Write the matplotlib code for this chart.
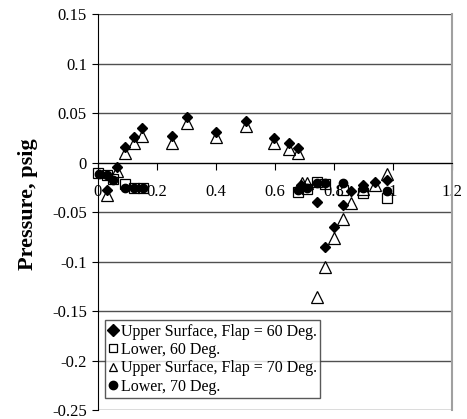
import numpy as np
import matplotlib.pyplot as plt

plt.rcParams['font.family'] = ['Liberation Serif', 'DejaVu Serif']

# Upper surface, flap = 60 deg
x_up60 = [0.031, 0.063, 0.091, 0.122, 0.150, 0.251, 0.302, 0.401, 0.501, 0.598,
          0.649, 0.679, 0.688, 0.741, 0.771, 0.800, 0.829, 0.859, 0.899, 0.938, 0.980]
p_up60 = [-0.028, -0.004, 0.016, 0.026, 0.035, 0.027, 0.046, 0.0315, 0.042, 0.0255,
          0.0197, 0.0154, -0.022, -0.040, -0.085, -0.065, -0.043, -0.029, -0.022, -0.019, -0.0175]

# Lower surface, 60 deg
x_lo60 = [0.001, 0.031, 0.050, 0.090, 0.122, 0.152, 0.679, 0.710, 0.741, 0.771, 0.829, 0.899, 0.980]
p_lo60 = [-0.010, -0.012, -0.0165, -0.0215, -0.0255, -0.025, -0.030, -0.0265, -0.019, -0.021,
          -0.027, -0.031, -0.036]

# Upper surface, flap = 70 deg
x_up70 = [0.031, 0.063, 0.091, 0.122, 0.150, 0.251, 0.302, 0.401, 0.501, 0.598,
          0.649, 0.679, 0.690, 0.710, 0.741, 0.771, 0.800, 0.831, 0.859, 0.899, 0.938, 0.980]
p_up70 = [-0.033, -0.008, 0.010, 0.020, 0.027, 0.020, 0.040, 0.0265, 0.037, 0.020,
          0.0137, 0.0097, -0.020, -0.020, -0.136, -0.105, -0.076, -0.057, -0.041, -0.026,
          -0.0225, -0.0115]

# Lower surface, 70 deg
x_lo70 = [0.003, 0.031, 0.050, 0.090, 0.122, 0.152, 0.679, 0.710, 0.741, 0.771, 0.829, 0.899, 0.980]
p_lo70 = [-0.011, -0.0125, -0.017, -0.025, -0.0255, -0.025, -0.027, -0.025, -0.020, -0.020,
          -0.0205, -0.0256, -0.029]

xticks = [0, 0.2, 0.4, 0.6, 0.8, 1.0, 1.2]
xticklabels = ['0', '0.2', '0.4', '0.6', '0.8', '1', '1.2']
yticks = [-0.25, -0.2, -0.15, -0.1, -0.05, 0, 0.05, 0.1, 0.15]
yticklabels = ['-0.25', '-0.2', '-0.15', '-0.1', '-0.05', '0', '0.05', '0.1', '0.15']

fig = plt.figure(figsize=(4.67, 4.19), dpi=100)
ax = fig.add_axes([98 / 467, 1 - 410 / 419, (452 - 98) / 467, (410 - 14.5) / 419])

ax.plot(x_up60, p_up60, linestyle='none', marker='D', ms=5.5, mfc='black', mec='black',
        label='Upper Surface, Flap = 60 Deg.', zorder=3, clip_on=False)
ax.plot(x_lo60, p_lo60, linestyle='none', marker='s', ms=7.5, mfc='none', mec='black', mew=0.9,
        label='Lower, 60 Deg.', zorder=3, clip_on=False)
ax.plot(x_up70, p_up70, linestyle='none', marker='^', ms=8, mfc='none', mec='black', mew=0.9,
        label='Upper Surface, Flap = 70 Deg.', zorder=3, clip_on=False)
ax.plot(x_lo70, p_lo70, linestyle='none', marker='o', ms=6, mfc='black', mec='black',
        label='Lower, 70 Deg.', zorder=3, clip_on=False)

ax.set_xlim(0, 1.2)
ax.set_ylim(-0.25, 0.15)

# horizontal gridlines at every major y tick
for yv in yticks:
    ax.axhline(yv, color='#505050', lw=1.0, zorder=1)

ax.spines['bottom'].set_position(('data', 0))
ax.spines['bottom'].set_color('black')
ax.spines['left'].set_color('black')
ax.spines['top'].set_visible(False)
ax.spines['right'].set_color('#a0a0a0')
ax.spines['right'].set_linewidth(1.5)

ax.set_xticks(xticks)
ax.set_xticklabels(xticklabels)
ax.set_yticks(yticks)
ax.set_yticklabels(yticklabels)
ax.tick_params(axis='x', direction='out', length=5, labelsize=12, pad=10)
ax.tick_params(axis='y', direction='out', length=4, labelsize=12, pad=4)

ax.set_ylabel('Pressure, psig', fontsize=16, fontweight='bold')
ax.yaxis.set_label_coords(-(98 - 38) / 354, 0.52)

leg = ax.legend(loc='lower left', bbox_to_anchor=(105 / 467, 1 - 398 / 419),
                bbox_transform=fig.transFigure, fontsize=11.5, frameon=True, fancybox=False,
                handlelength=0.6, handletextpad=0.2, borderpad=0.2, labelspacing=0.15,
                borderaxespad=0)
leg.get_frame().set_edgecolor('#303030')
leg.get_frame().set_linewidth(1.0)
for h in leg.legend_handles:
    h.set_markersize(6)

fig.savefig('out.png', dpi=100)
